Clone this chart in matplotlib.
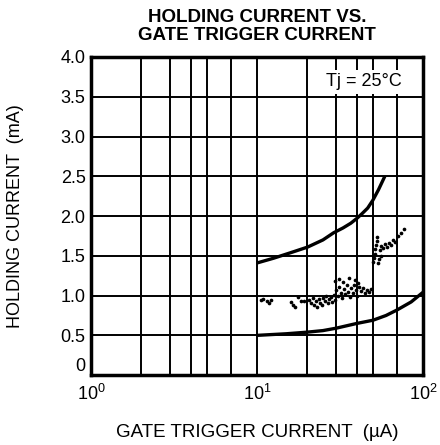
import matplotlib
matplotlib.use("Agg")
from matplotlib import pyplot as plt
from matplotlib.ticker import FixedLocator, NullLocator
from matplotlib.patches import Rectangle
import numpy as np

plt.rcParams['font.family'] = ['Liberation Sans', 'DejaVu Sans']
plt.rcParams['mathtext.fontset'] = 'custom'
plt.rcParams['mathtext.rm'] = 'Liberation Sans'

# limit curves (gate trigger current uA, holding current mA)
upper_x = [10, 12.6, 16, 20.2, 25, 29, 33, 36.8, 40, 43, 46.5, 50, 54, 59]
upper_y = [1.41, 1.47, 1.54, 1.61, 1.70, 1.79, 1.85, 1.91, 1.97, 2.03, 2.10, 2.20, 2.33, 2.5]
lower_x = [10, 15, 20, 25, 30, 40, 50, 60, 70, 85, 100]
lower_y = [0.50, 0.52, 0.54, 0.56, 0.59, 0.65, 0.69, 0.75, 0.82, 0.92, 1.04]

# measured devices
pts_x = [10.6, 10.9, 11.5, 11.8, 12.1,
         16.0, 16.5, 16.9, 17.7, 18.4, 19.2,
         20.6, 21.1, 21.7, 22.0, 22.7, 23.0, 23.6, 24.0, 24.6, 25.0, 25.7, 26.1,
         26.8, 27.2, 27.9, 28.3, 29.1, 29.5,
         29.9, 30.8, 31.2, 32.1, 32.5, 33.4, 33.9, 34.8, 35.3, 36.3, 36.8, 37.8,
         38.4, 39.5, 40.0, 41.1,
         29.5, 31.2, 33.0, 35.8, 38.9, 40.6,
         42.4, 43.5, 44.7, 46.0, 47.3, 48.6,
         50.0, 50.7, 51.4, 51.4, 52.1, 52.8, 52.8, 54.3, 55.1, 55.8, 57.4, 59.0,
         60.7, 62.4, 64.1, 65.9, 67.8, 70.7, 73.7, 76.9, 53.5, 55.8]
pts_y = [0.94, 0.96, 0.93, 0.91, 0.94,
         0.92, 0.88, 0.86, 0.98, 0.93, 0.93,
         0.94, 0.91, 0.97, 0.88, 0.93, 0.86, 0.96, 0.91, 0.88, 0.97, 0.93, 0.99,
         0.91, 0.96, 0.98, 0.92, 1.01, 0.94,
         1.07, 0.99, 1.11, 1.03, 0.97, 1.08, 1.02, 1.13, 1.04, 0.98, 1.09, 1.03,
         1.13, 1.07, 0.99, 1.11,
         1.18, 1.21, 1.17, 1.22, 1.19, 1.16,
         1.06, 1.09, 1.03, 1.07, 1.04, 1.08,
         1.42, 1.47, 1.52, 1.58, 1.64, 1.69, 1.74, 1.46, 1.57, 1.62, 1.60, 1.65,
         1.61, 1.66, 1.64, 1.70, 1.67, 1.75, 1.79, 1.84, 1.41, 1.50]

y_ticks = [0, 0.5, 1.0, 1.5, 2.0, 2.5, 3.0, 3.5, 4.0]
y_labels = ['0', '0.5', '1.0', '1.5', '2.0', '2.5', '3.0', '3.5', '4.0']
x_ticks = [1, 10, 100]
x_labels = ['$10^0$', '$10^1$', '$10^2$']
grid_x = [m * d for d in (1, 10) for m in (2, 3, 4, 5, 7)] + [10]

fig = plt.figure(figsize=(4.4, 4.45), dpi=100)
ax = fig.add_axes([0.207, 0.157, 0.754, 0.715])
ax.set_xscale('log')
ax.set_xlim(1, 100)
ax.set_ylim(0, 4.0)

for gx in grid_x:
    ax.axvline(gx, color='black', lw=1.4, zorder=1)
for gy in y_ticks[1:-1]:
    ax.axhline(gy, color='black', lw=1.4, zorder=1)

# white patch behind the temperature note
ax.add_patch(Rectangle((21, 3.53), 80, 0.31, facecolor='white', edgecolor='none', zorder=2))
ax.text(44, 3.69, 'Tj = 25°C', fontsize=13, ha='center', va='center', zorder=4)

ax.plot(upper_x, upper_y, color='black', lw=2.4, zorder=3, solid_capstyle='butt')
ax.plot(lower_x, lower_y, color='black', lw=2.4, zorder=3, solid_capstyle='butt')
ax.scatter(pts_x, pts_y, s=7, color='black', lw=0, zorder=3)

ax.xaxis.set_major_locator(FixedLocator(x_ticks))
ax.xaxis.set_minor_locator(NullLocator())
ax.set_xticklabels(x_labels)
ax.set_yticks(y_ticks)
ax.set_yticklabels(y_labels)
ax.tick_params(length=0, labelsize=13, pad=4)
ax.tick_params(axis='x', pad=6)
ax.get_yticklabels()[0].set_va('bottom')
for s in ax.spines.values():
    s.set_linewidth(2.5)
    s.set_zorder(5)

ax.set_xlabel('GATE TRIGGER CURRENT  (µA)', fontsize=13.5, labelpad=15)
ax.set_ylabel('HOLDING CURRENT  (mA)', fontsize=13, labelpad=26)
ax.set_title('HOLDING CURRENT VS.\nGATE TRIGGER CURRENT', fontsize=13.5,
             fontweight='bold', pad=12, linespacing=1.1)

fig.savefig('out.png', dpi=100)
